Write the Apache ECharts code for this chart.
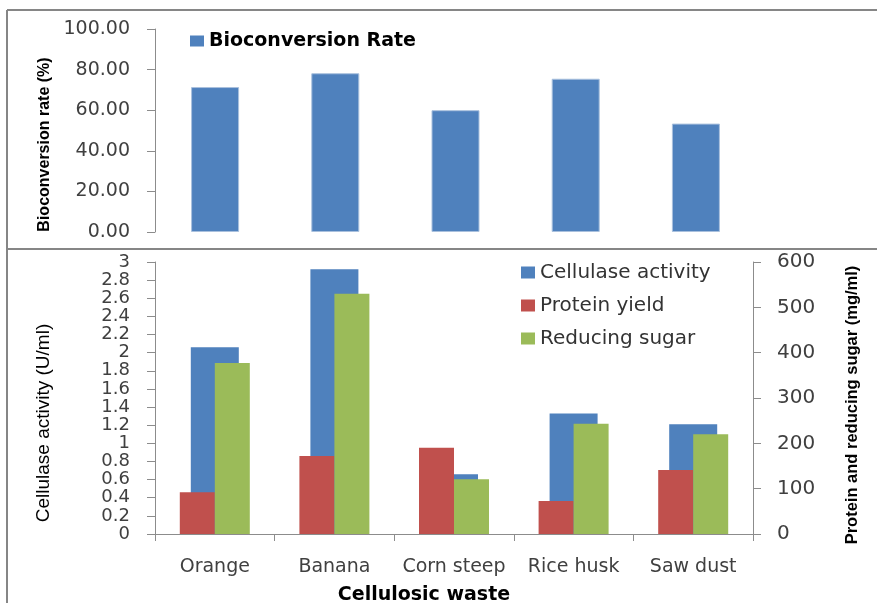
<!DOCTYPE html>
<html>
<head>
<meta charset="utf-8">
<script src="https://cdn.jsdelivr.net/npm/echarts@6/dist/echarts.min.js"></script>
<style>
html,body{margin:0;padding:0;background:#fff;}
#chart{width:877px;height:603px;}
</style>
</head>
<body>
<div id="chart"></div>
<script>
const categories = ['Orange', 'Banana', 'Corn steep', 'Rice husk', 'Saw dust'];
const bioconversionRate = [71.4, 78.2, 60.0, 75.5, 53.4];
const cellulaseActivity = [2.06, 2.92, 0.66, 1.33, 1.21];
const proteinYield = [92, 172, 190, 73, 141];
const reducingSugar = [377, 530, 121, 243, 220];

const tickFont = 'DejaVu Sans';
const nameFont = 'Liberation Sans';
const tickColor = '#404040';
const axisLineColor = '#8c8c8c';

const chart = echarts.init(document.getElementById('chart'));
chart.setOption({
  animation: false,
  backgroundColor: '#ffffff',
  legend: [
    {
      data: ['Bioconversion Rate'],
      left: 185, top: 26,
      icon: 'rect', itemWidth: 14, itemHeight: 11, itemGap: 10,
      itemStyle: { borderWidth: 0 },
      textStyle: { fontFamily: tickFont, fontSize: 19, fontWeight: 'bold', color: '#000', lineHeight: 20 }
    },
    {
      data: ['Cellulase activity', 'Protein yield', 'Reducing sugar'],
      orient: 'vertical', left: 516, top: 257,
      icon: 'rect', itemWidth: 14, itemHeight: 12, itemGap: 12,
      itemStyle: { borderWidth: 0 },
      textStyle: { fontFamily: tickFont, fontSize: 20, color: '#333', lineHeight: 21 }
    }
  ],
  graphic: [
    { type: 'line', shape: { x1: 7, y1: 10, x2: 877, y2: 10 }, style: { stroke: '#868686', lineWidth: 2 } },
    { type: 'line', shape: { x1: 7, y1: 10, x2: 7, y2: 603 }, style: { stroke: '#868686', lineWidth: 2 } },
    { type: 'line', shape: { x1: 7, y1: 249, x2: 877, y2: 249 }, style: { stroke: '#868686', lineWidth: 2 } }
  ],
  grid: [
    { left: 155, width: 601, top: 29, height: 203, outerBoundsMode: 'none', containLabel: false },
    { left: 155, width: 598, top: 262, height: 272, outerBoundsMode: 'none', containLabel: false }
  ],
  xAxis: [
    { type: 'category', gridIndex: 0, data: categories,
      axisLine: { show: false }, axisTick: { show: false }, axisLabel: { show: false } },
    { type: 'category', gridIndex: 1, data: categories,
      axisLine: { show: true, lineStyle: { color: axisLineColor, width: 1 } },
      axisTick: { show: true, length: 7, lineStyle: { color: axisLineColor } },
      axisLabel: { fontFamily: tickFont, fontSize: 19, color: tickColor, margin: 24, interval: 0 },
      name: 'Cellulosic waste', nameLocation: 'middle', nameGap: 52,
      nameTextStyle: { fontFamily: tickFont, fontSize: 19, fontWeight: 'bold', color: '#000', padding: [0, 60, 0, 0] } },
    { type: 'category', gridIndex: 1, data: categories, show: false }
  ],
  yAxis: [
    { type: 'value', gridIndex: 0, min: 0, max: 100, interval: 20,
      axisLine: { show: true, lineStyle: { color: axisLineColor } },
      axisTick: { show: true, length: 8, lineStyle: { color: axisLineColor } },
      splitLine: { show: false },
      axisLabel: { fontFamily: tickFont, fontSize: 19, color: tickColor, margin: 25,
        showMinLabel: true, showMaxLabel: true,
        formatter: v => v.toFixed(2) },
      name: 'Bioconversion rate (%)', nameLocation: 'middle', nameGap: 102,
      nameTextStyle: { fontFamily: nameFont, fontSize: 16, fontWeight: 'bold', color: '#000', padding: [0, 28, 0, 0] } },
    { type: 'value', gridIndex: 1, min: 0, max: 3, interval: 0.2,
      axisLine: { show: true, lineStyle: { color: axisLineColor } },
      axisTick: { show: true, length: 8, lineStyle: { color: axisLineColor } },
      splitLine: { show: false },
      axisLabel: { fontFamily: tickFont, fontSize: 18, color: tickColor, margin: 25,
        showMinLabel: true, showMaxLabel: true,
        formatter: v => String(Number(v.toFixed(1))) },
      name: 'Cellulase activity (U/ml)', nameLocation: 'middle', nameGap: 102,
      nameTextStyle: { fontFamily: nameFont, fontSize: 19, color: '#000', padding: [0, 50, 0, 0] } },
    { type: 'value', gridIndex: 1, position: 'right', min: 0, max: 600, interval: 100,
      axisLine: { show: true, lineStyle: { color: axisLineColor } },
      axisTick: { show: true, length: 8, lineStyle: { color: axisLineColor } },
      splitLine: { show: false },
      axisLabel: { fontFamily: tickFont, fontSize: 20, color: tickColor, margin: 24,
        showMinLabel: true, showMaxLabel: true },
      name: 'Protein and reducing sugar (mg/ml)', nameLocation: 'middle', nameGap: 91,
      nameTextStyle: { fontFamily: nameFont, fontSize: 16.5, fontWeight: 'bold', color: '#000', padding: [0, 14, 0, 0] } }
  ],
  series: [
    { name: 'Bioconversion Rate', type: 'bar', xAxisIndex: 0, yAxisIndex: 0, data: bioconversionRate,
      barWidth: 48, itemStyle: { color: '#4F81BD', borderColor: '#a9c0dd', borderWidth: 1 } },
    { name: 'Cellulase activity', type: 'bar', xAxisIndex: 1, yAxisIndex: 1, data: cellulaseActivity,
      barWidth: 48, itemStyle: { color: '#4F81BD' } },
    { name: 'Protein yield', type: 'bar', xAxisIndex: 2, yAxisIndex: 2, data: proteinYield,
      barWidth: 35, barGap: '0%', itemStyle: { color: '#C0504D' } },
    { name: 'Reducing sugar', type: 'bar', xAxisIndex: 2, yAxisIndex: 2, data: reducingSugar,
      barWidth: 35, barGap: '0%', itemStyle: { color: '#9BBB59' } }
  ]
});
</script>
</body>
</html>
